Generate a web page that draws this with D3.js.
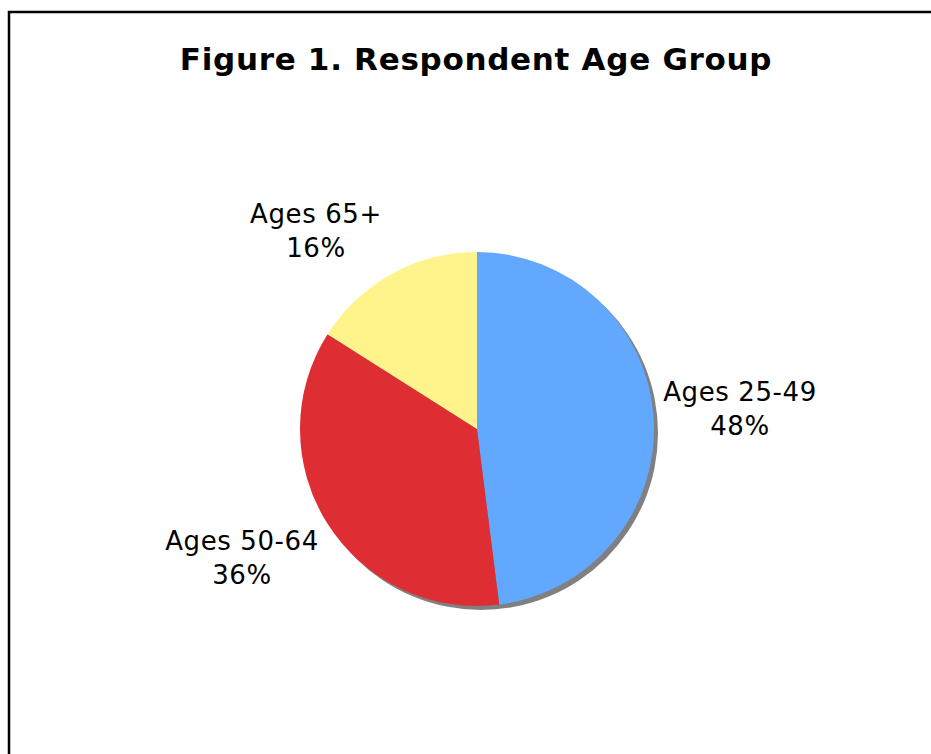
<!DOCTYPE html>
<html>
<head>
<meta charset="utf-8">
<script src="https://cdn.jsdelivr.net/npm/d3@7"></script>
<style>
  html, body { margin: 0; padding: 0; background: #fff; }
  svg { display: block; }
</style>
</head>
<body>
<svg id="chart" width="931" height="754"></svg>
<script>
const title = "Figure 1. Respondent Age Group";
const categories = ["Ages 25-49", "Ages 50-64", "Ages 65+"];
const values = [48, 36, 16];
const colors = ["#62a8ff", "#de2d33", "#fff38c"];

const svg = d3.select("#chart");

// frame (right/bottom edges fall outside the view)
svg.append("rect")
  .attr("x", 9).attr("y", 12)
  .attr("width", 940).attr("height", 760)
  .attr("fill", "#fff")
  .attr("stroke", "#000")
  .attr("stroke-width", 2.5);

svg.append("text")
  .attr("x", 476).attr("y", 70)
  .attr("text-anchor", "middle")
  .attr("font-family", "'DejaVu Sans', Verdana, sans-serif")
  .attr("font-weight", "bold")
  .attr("font-size", 31)
  .attr("letter-spacing", 0.7)
  .attr("fill", "#000")
  .text(title);

const cx = 477, cy = 429, r = 177;
const data = categories.map((c, i) => ({ name: c, value: values[i], color: colors[i] }));
const pie = d3.pie().value(d => d.value).sort(null);
const arcs = pie(data);
const arc = d3.arc().innerRadius(0).outerRadius(r);

// shadow
svg.append("circle")
  .attr("cx", cx + 4).attr("cy", cy + 4).attr("r", r)
  .attr("fill", "#808080");

const g = svg.append("g").attr("transform", `translate(${cx},${cy})`);
g.selectAll("path").data(arcs).enter().append("path")
  .attr("d", arc)
  .attr("fill", d => d.data.color);

// labels
const labelPos = {
  "Ages 25-49": [740, 401],
  "Ages 50-64": [242, 550],
  "Ages 65+": [316, 223]
};
const total = d3.sum(values);
arcs.forEach(a => {
  const p = labelPos[a.data.name];
  const t = svg.append("text")
    .attr("text-anchor", "middle")
    .attr("font-family", "'DejaVu Sans', Verdana, sans-serif")
    .attr("font-size", 26)
    .attr("letter-spacing", 0.6)
    .attr("fill", "#000");
  t.append("tspan").attr("x", p[0]).attr("y", p[1]).text(a.data.name);
  t.append("tspan").attr("x", p[0]).attr("y", p[1] + 34)
    .text(Math.round(a.data.value / total * 100) + "%");
});
</script>
</body>
</html>
